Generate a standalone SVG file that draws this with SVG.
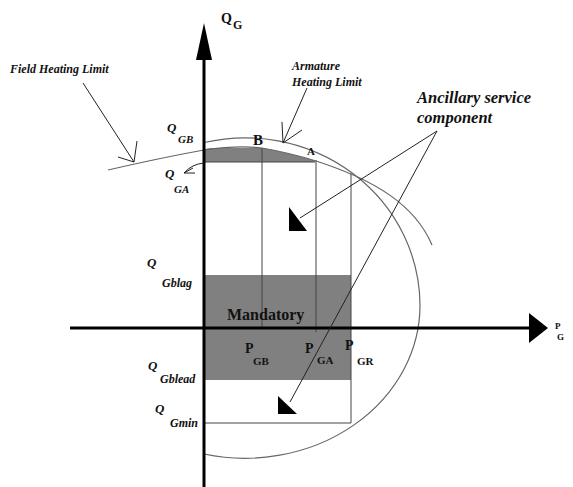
<svg xmlns="http://www.w3.org/2000/svg" width="573" height="487" viewBox="0 0 573 487">
<style>
.axis{stroke:#000;stroke-width:3;fill:none}
.thin{stroke:#444;stroke-width:1;fill:none}
.curve{stroke:#666;stroke-width:1.2;fill:none}
.ptr{stroke:#222;stroke-width:1;fill:none}
.shade{fill:#808080}
text{font-family:"Liberation Serif","Times New Roman",serif;fill:#111}
.it{font-style:italic;font-weight:bold}
.b{font-weight:bold}
</style>
<g id="shaded-regions">
<rect class="shade" x="204" y="275" width="147" height="105"/>
<path class="shade" d="M204,150 Q206,148 212,148 L262,148 Q285,152 313,160 L315,162 L204,162 Z"/>
</g>
<g id="grid-lines">
<line class="thin" x1="204" y1="162" x2="315" y2="162"/>
<line class="thin" x1="262" y1="148" x2="262" y2="328"/>
<line class="thin" x1="316" y1="160" x2="316" y2="332"/>
<line class="thin" x1="351" y1="173" x2="351" y2="423"/>
<line class="thin" x1="204" y1="423" x2="351" y2="423"/>
</g>
<g id="limit-curves">
<path id="armature-limit" class="curve" d="M204,142.5 A175,168 0 0 1 420,305 A175,153 0 0 1 204,454"/>
<path id="field-limit" class="curve" d="M108,170 Q160,158 204,150 C225,147 245,146 262,148 C285,152 300,156 316,161 C375,180 415,205 432,245"/>
</g>
<g id="axes">
<line class="axis" x1="204" y1="487" x2="204" y2="55"/>
<polygon points="204,23 196,60 212,60" fill="#000"/>
<line class="axis" x1="70" y1="328" x2="533" y2="328"/>
<polygon points="548,328 529,313 529,343" fill="#000"/>
</g>
<g id="connectors">
<line class="ptr" x1="83" y1="83" x2="134" y2="162"/>
<polyline class="ptr" points="137,141 134,162 118,157"/>
<line class="ptr" x1="307" y1="88" x2="283" y2="143"/>
<polyline class="ptr" points="282,122 283,143 302,130"/>
<path class="ptr" d="M204,163 Q192,164 184,173"/>
<polyline class="ptr" points="193,168 184,173 195,173"/>
<line class="ptr" x1="437" y1="131" x2="300" y2="218"/>
<line class="ptr" x1="437" y1="131" x2="290" y2="402"/>
<polygon points="289,207 289,231 307,231" fill="#000"/>
<polygon points="278,396 278,414 297,414" fill="#000"/>
</g>
<g id="labels">
<text class="b" x="221" y="23" font-size="14">Q</text>
<text class="b" x="233" y="29" font-size="12">G</text>
<text class="b" x="555" y="329" font-size="9">P</text>
<text class="b" x="557" y="340" font-size="9">G</text>
<text class="it" x="10" y="73" font-size="12">Field Heating Limit</text>
<text class="it" x="292" y="70" font-size="12">Armature</text>
<text class="it" x="292" y="86" font-size="12">Heating Limit</text>
<text class="it" x="417" y="103" font-size="16.5">Ancillary service</text>
<text class="it" x="417" y="123" font-size="16.5">component</text>
<text class="it" x="167" y="132" font-size="13">Q</text>
<text class="it" x="178" y="143" font-size="11">GB</text>
<text class="it" x="165" y="178" font-size="13">Q</text>
<text class="it" x="174" y="193" font-size="11">GA</text>
<text class="b" x="253" y="145" font-size="15">B</text>
<text class="b" x="307" y="155" font-size="11">A</text>
<text class="it" x="147" y="267" font-size="13">Q</text>
<text class="it" x="162" y="287" font-size="12">Gblag</text>
<text class="b" x="227" y="320" font-size="16">Mandatory</text>
<text class="b" x="245" y="353" font-size="14">P</text>
<text class="b" x="253" y="365" font-size="11">GB</text>
<text class="b" x="305" y="353" font-size="14">P</text>
<text class="b" x="317" y="364" font-size="11">GA</text>
<text class="b" x="345" y="350" font-size="14">P</text>
<text class="b" x="357" y="365" font-size="11">GR</text>
<text class="it" x="148" y="370" font-size="13">Q</text>
<text class="it" x="160" y="383" font-size="12">Gblead</text>
<text class="it" x="155" y="413" font-size="13">Q</text>
<text class="it" x="170" y="427" font-size="12">Gmin</text>
</g>
</svg>
